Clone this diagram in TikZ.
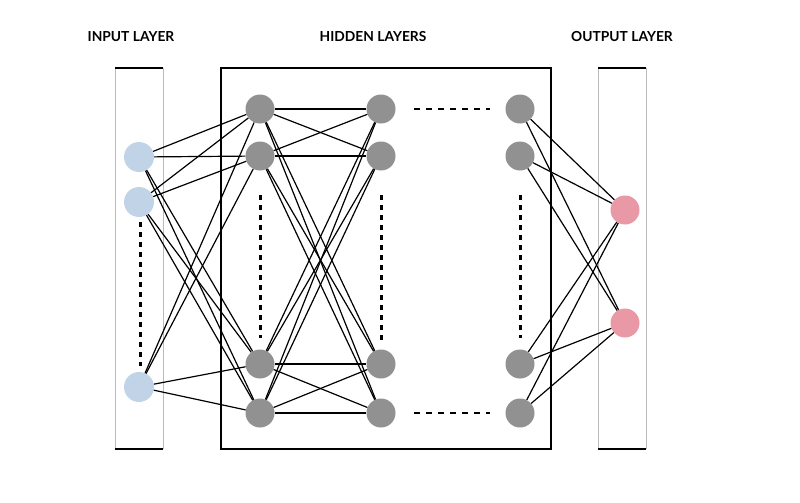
\documentclass[tikz,border=0pt]{standalone}
\usepackage{fontspec}
\setmainfont{Lato}
\begin{document}
\begin{tikzpicture}[x=1pt,y=-1pt,
  inn/.style={circle,fill=inblue,minimum size=30pt,inner sep=0pt},
  hid/.style={circle,fill=hidgray,minimum size=29pt,inner sep=0pt},
  outn/.style={circle,fill=outpink,minimum size=29pt,inner sep=0pt},
  edge/.style={black,line width=1.2pt},
  dotv/.style={black,line width=3pt,dash pattern=on 5pt off 5pt},
  doth/.style={black,line width=1.6pt,dash pattern=on 6pt off 6pt},
  ttl/.style={font=\fontsize{13.8}{16}\selectfont\bfseries}]
\definecolor{inblue}{HTML}{C1D3E7}
\definecolor{hidgray}{HTML}{919191}
\definecolor{outpink}{HTML}{E899A5}
\definecolor{sidegray}{HTML}{BBBBBB}
\useasboundingbox (0,0) rectangle (800,503);
% titles
\node[ttl] (t1) at (131,37) {INPUT LAYER};
\node[ttl] (t2) at (373,37) {HIDDEN LAYERS};
\node[ttl] (t3) at (622,37) {OUTPUT LAYER};
% layer frames
\draw[sidegray,line width=0.8pt] (115,68) -- (115,449) (163,68) -- (163,449);
\draw[black,line width=2pt] (115,68) -- (163,68) (115,449) -- (163,449);
\draw[sidegray,line width=0.8pt] (598,68) -- (598,449) (646,68) -- (646,449);
\draw[black,line width=2pt] (598,68) -- (646,68) (598,449) -- (646,449);
\draw[black,line width=2pt] (221,68) rectangle (551,449);
% nodes
\node[inn] (i1) at (139,157) {};
\node[inn] (i2) at (139,202) {};
\node[inn] (i3) at (139,387) {};
\foreach \c/\x in {a/260,b/381,c/520}{
  \node[hid] (\c1) at (\x,109) {};
  \node[hid] (\c2) at (\x,156) {};
  \node[hid] (\c3) at (\x,364) {};
  \node[hid] (\c4) at (\x,413) {};
}
\node[outn] (o1) at (625,210) {};
\node[outn] (o2) at (625,323) {};
% edges
\foreach \i in {1,2,3}{\foreach \j in {1,2,3,4}{\draw[edge] (i\i) -- (a\j);}}
\foreach \i in {1,2,3,4}{\foreach \j in {1,2,3,4}{\draw[edge] (a\i) -- (b\j);}}
\foreach \i in {1,2,3,4}{\foreach \j in {1,2}{\draw[edge] (c\i) -- (o\j);}}
% ellipsis dots
\coordinate (d1s) at (140,222); \coordinate (d1e) at (140,366);
\coordinate (d2s) at (260,195); \coordinate (d2e) at (260,338);
\coordinate (d3s) at (381,195); \coordinate (d3e) at (381,340);
\coordinate (d4s) at (520,195); \coordinate (d4e) at (520,338);
\draw[dotv] (d1s) -- (d1e);
\draw[dotv] (d2s) -- (d2e);
\draw[dotv] (d3s) -- (d3e);
\draw[dotv] (d4s) -- (d4e);
\coordinate (h1s) at (414,109); \coordinate (h1e) at (490,109);
\coordinate (h2s) at (414,413); \coordinate (h2e) at (490,413);
\draw[doth] (h1s) -- (h1e);
\draw[doth] (h2s) -- (h2e);
\end{tikzpicture}
\end{document}
